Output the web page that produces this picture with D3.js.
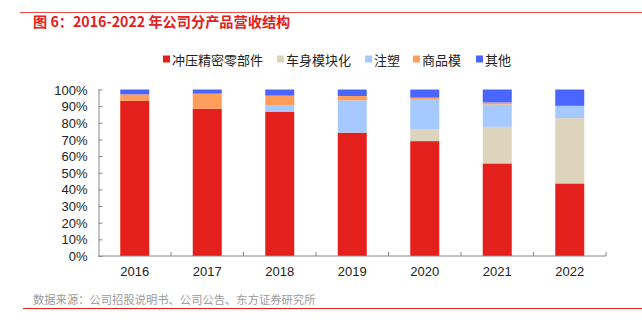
<!DOCTYPE html>
<html>
<head>
<meta charset="utf-8">
<script src="https://cdn.jsdelivr.net/npm/d3@7"></script>
<style>
    body { margin: 0; background: #fff; }
    svg { display: block; }
    .axis path, .axis line { stroke: #888; }
    .axis text { font-family: "Liberation Sans", Arial, sans-serif; font-size: 13px; fill: #222; }
</style>
</head>
<body>
<div id="chart"></div>
<script>
// data
const years = ['2016', '2017', '2018', '2019', '2020', '2021', '2022'];
const seriesNames = ['冲压精密零部件', '车身模块化', '注塑', '商品模', '其他'];
const seriesColors = ['#E3201B', '#DDD4BD', '#A6C9FF', '#FF9E5A', '#4A66FF'];
const stamping = [93.3, 88.5, 86.7, 74.1, 69.0, 55.6, 43.6];
const bodyModule = [0, 0, 0, 0, 7.2, 22.0, 39.2];
const injection = [0, 0, 3.6, 19.4, 17.7, 13.4, 7.4];
const commodityMold = [3.8, 9.0, 6.0, 2.6, 1.2, 1.2, 0];
const others = [2.9, 2.5, 3.7, 3.9, 4.9, 7.8, 9.8];
const yTicks = [0, 10, 20, 30, 40, 50, 60, 70, 80, 90, 100];

const W = 642, H = 329;
const margin = { top: 89.5, right: 36, bottom: 73, left: 98.5 };
const width = W - margin.left - margin.right;
const height = H - margin.top - margin.bottom;

const svg = d3.select('#chart').append('svg')
    .attr('width', W)
    .attr('height', H);

// header / footer
svg.append('line')
    .attr('x1', 20).attr('x2', W).attr('y1', 12.5).attr('y2', 12.5)
    .attr('stroke', '#E8494A').attr('stroke-width', 1);
svg.append('text')
    .attr('x', 33).attr('y', 27)
    .style('font-family', '"Noto Sans CJK SC", sans-serif')
    .style('font-size', '14.2px')
    .style('font-weight', 'bold')
    .attr('fill', '#E3201B')
    .text('图 6：2016-2022 年公司分产品营收结构');
svg.append('line')
    .attr('x1', 23).attr('x2', W).attr('y1', 308.5).attr('y2', 308.5)
    .attr('stroke', '#E3201B').attr('stroke-width', 1);
svg.append('text')
    .attr('x', 33).attr('y', 303.5)
    .style('font-family', '"Noto Sans CJK SC", sans-serif')
    .style('font-size', '11.3px')
    .attr('fill', '#9a9a9a')
    .text('数据来源：公司招股说明书、公司公告、东方证券研究所');

// legend
const legendX = [163, 277, 365, 413, 476];
const legend = svg.append('g');
seriesNames.forEach((name, i) => {
    legend.append('rect')
        .attr('x', legendX[i]).attr('y', 55.5)
        .attr('width', 7).attr('height', 7)
        .attr('fill', seriesColors[i]);
    legend.append('text')
        .attr('x', legendX[i] + 9).attr('y', 64.5)
        .style('font-family', '"Noto Sans CJK SC", sans-serif')
        .style('font-size', '13px')
        .attr('fill', '#222')
        .text(name);
});

const group = svg.append('g')
    .attr('transform', 'translate(' + margin.left + ',' + margin.top + ')');

const xScale = d3.scaleBand().domain(years).range([0, width]).paddingInner(0.6).paddingOuter(0.3);
const yScale = d3.scaleLinear().domain([0, 100]).range([height, 0]);

// stacked data
const table = years.map((y, i) => ({
    year: y,
    s0: stamping[i], s1: bodyModule[i], s2: injection[i], s3: commodityMold[i], s4: others[i]
}));
const stack = d3.stack().keys(['s0', 's1', 's2', 's3', 's4']);
const layers = stack(table);

group.selectAll('g.layer')
    .data(layers)
    .enter().append('g')
    .attr('class', 'layer')
    .attr('fill', (d, i) => seriesColors[i])
    .selectAll('rect')
    .data(d => d)
    .enter().append('rect')
    .attr('x', d => xScale(d.data.year))
    .attr('width', xScale.bandwidth())
    .attr('y', d => yScale(d[1]))
    .attr('height', d => yScale(d[0]) - yScale(d[1]));

// axes
const xTickScale = d3.scaleLinear().domain([0, years.length]).range([0, width]);
const xAxisGroup = group.append('g')
    .attr('class', 'axis')
    .attr('transform', 'translate(0,' + height + ')');
xAxisGroup.append('line')
    .attr('x1', 0).attr('x2', width).attr('stroke', '#888');
xAxisGroup.selectAll('line.tick')
    .data(d3.range(1, years.length + 1))
    .enter().append('line')
    .attr('class', 'tick')
    .attr('x1', d => xTickScale(d)).attr('x2', d => xTickScale(d))
    .attr('y1', 0).attr('y2', -4)
    .attr('stroke', '#888');
xAxisGroup.selectAll('text')
    .data(years)
    .enter().append('text')
    .attr('x', d => xScale(d) + xScale.bandwidth() / 2)
    .attr('y', 20)
    .attr('text-anchor', 'middle')
    .text(d => d);

const yAxis = d3.axisLeft(yScale)
    .tickValues(yTicks)
    .tickSize(-4)
    .tickPadding(11)
    .tickFormat(d => d + '%');
const yAxisGroup = group.append('g')
    .attr('class', 'axis')
    .call(yAxis);
yAxisGroup.select('.domain').attr('d', 'M0.5,' + height + 'V0');
yAxisGroup.selectAll('text').attr('dy', '0.35em');
</script>
</body>
</html>
